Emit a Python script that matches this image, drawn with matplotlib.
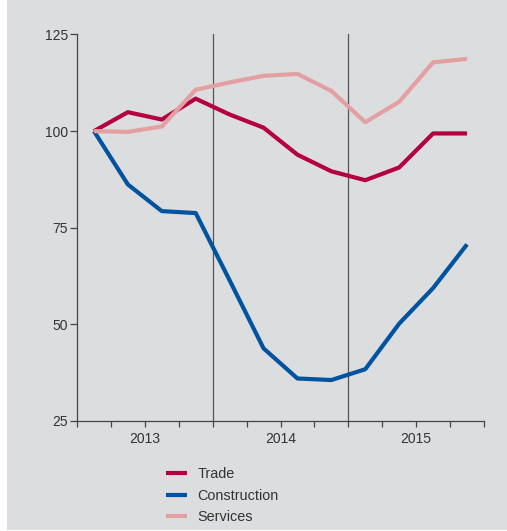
import matplotlib
matplotlib.use("Agg")
import matplotlib.pyplot as plt
from matplotlib.patches import Rectangle

# quarterly index, first quarter of 2013 = 100
quarters = [0.5, 1.5, 2.5, 3.5, 4.5, 5.5, 6.5, 7.5, 8.5, 9.5, 10.5, 11.5]
trade = [100, 104.9, 103.0, 108.4, 104.3, 100.9, 93.9, 89.6, 87.3, 90.6, 99.4, 99.4]
construction = [100, 86.2, 79.3, 78.8, 61.4, 43.8, 36.0, 35.6, 38.4, 50.2, 59.4, 70.7]
services = [100, 99.8, 101.2, 110.7, 112.6, 114.3, 114.8, 110.4, 102.3, 107.6, 117.8, 118.7]

years = ["2013", "2014", "2015"]
yticks = [25, 50, 75, 100, 125]

bg = "#dcdddf"
txt = "#333333"

plt.rcParams["font.family"] = ["Liberation Sans", "DejaVu Sans"]
plt.rcParams["font.size"] = 10

fig = plt.figure(figsize=(5.07, 5.31), dpi=100, facecolor="white")
fig.patches.append(Rectangle((7 / 507, 1 / 531), 1, 1, transform=fig.transFigure,
                             facecolor=bg, edgecolor="none", zorder=-10))

ax = fig.add_axes([77 / 507, 110 / 531, 407 / 507, 386.5 / 531])
ax.set_facecolor("none")

ax.plot(quarters, trade, color="#b5003f", lw=3, solid_capstyle="butt", label="Trade")
ax.plot(quarters, construction, color="#00539f", lw=3, solid_capstyle="butt", label="Construction")
ax.plot(quarters, services, color="#e3a0a3", lw=3, solid_capstyle="butt", label="Services")

# year separators
for xv in (4, 8):
    ax.axvline(xv, color="#555555", lw=0.9, zorder=0)

ax.set_xlim(0, 12)
ax.set_ylim(25, 125)

ax.set_yticks(yticks)
ax.set_yticklabels([str(v) for v in yticks])
ax.set_xticks(range(13))
labels = [""] * 13
labels[2], labels[6], labels[10] = years
ax.set_xticklabels(labels)

for s in ("top", "right"):
    ax.spines[s].set_visible(False)
for s in ("left", "bottom"):
    ax.spines[s].set_color("#444444")
    ax.spines[s].set_linewidth(0.9)

ax.tick_params(axis="y", direction="out", length=5, width=0.9, pad=1.5,
               colors="#444444", labelcolor=txt)
ax.tick_params(axis="x", direction="out", length=4, width=0.9, pad=4,
               colors="#444444", labelcolor=txt)

fig.legend(loc="upper left", bbox_to_anchor=(160 / 507, 1 - 461.5 / 531),
           frameon=False, handlelength=1.5, handletextpad=0.7,
           labelspacing=0.52, borderaxespad=0, labelcolor=txt, fontsize=10.4)

fig.savefig("out.png", dpi=100, facecolor=fig.get_facecolor())
